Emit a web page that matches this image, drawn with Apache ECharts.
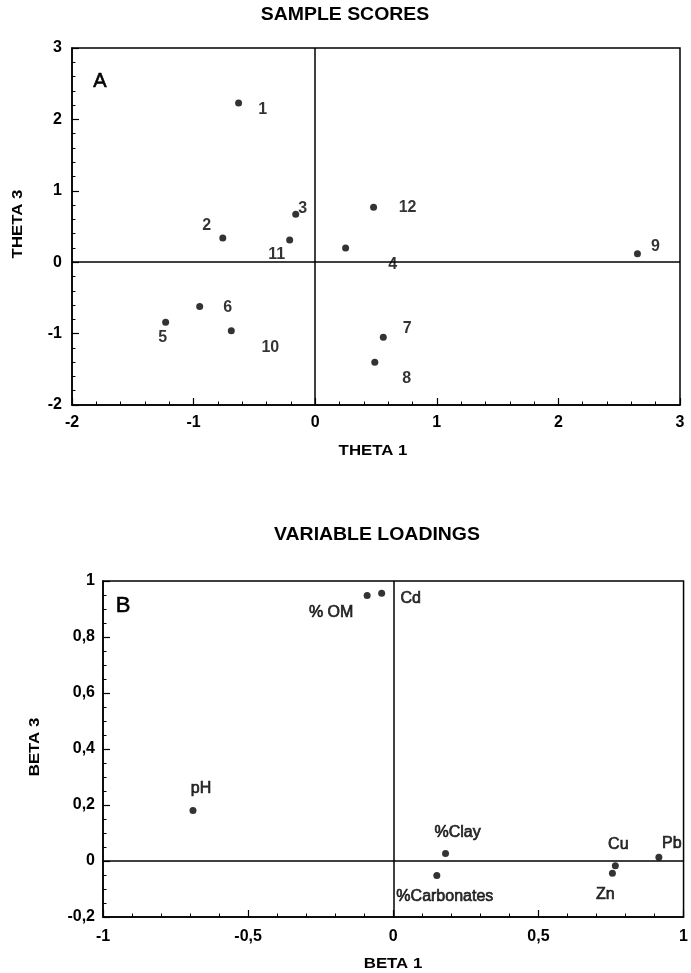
<!DOCTYPE html>
<html>
<head>
<meta charset="utf-8">
<script src="https://cdn.jsdelivr.net/npm/echarts@6/dist/echarts.min.js"></script>
<style>html,body{margin:0;padding:0;background:#fff}#c{width:691px;height:973px}</style>
</head>
<body>
<div id="c"></div>
<script>
// ---- Panel A: sample scores ----
var sampleIds = ['1','2','3','4','5','6','7','8','9','10','11','12'];
var theta1 = [-0.63, -0.76, -0.16, 0.25, -1.23, -0.95, 0.56, 0.49, 2.65, -0.69, -0.21, 0.48];
var theta3 = [2.23, 0.34, 0.67, 0.20, -0.84, -0.62, -1.05, -1.40, 0.12, -0.96, 0.31, 0.77];
// ---- Panel B: variable loadings ----
var variableNames = ['pH', '% OM', 'Cd', '%Clay', '%Carbonates', 'Cu', 'Zn', 'Pb'];
var beta1 = [-0.69, -0.09, -0.04, 0.18, 0.15, 0.765, 0.755, 0.915];
var beta3 = [0.18, 0.948, 0.956, 0.027, -0.052, -0.017, -0.044, 0.013];
// tick label values
var ticksA = [-2, -1, 0, 1, 2, 3];
var ticksBx = [-1, -0.5, 0, 0.5, 1];
var ticksBy = [-0.2, 0, 0.2, 0.4, 0.6, 0.8, 1];

// label placement (style only)
var labelOffsetsA = [[24,7],[-16,-12],[7,-6],[47,17],[-3,15],[28,1],[24,-9],[32,16],[18,-7],[39,17],[-13,15],[34,0]];
var labelOffsetsB = [[8,-22],[-36,17],[29,5],[12,-21],[8,21],[3,-21],[-7,21],[13,-14]];

var FONT = 'Liberation Sans, Arial, Helvetica, sans-serif';
function comma(v){ return String(v).replace('.', ','); }

var dataA = sampleIds.map(function(id, i){
  return { value: [theta1[i], theta3[i]], name: id,
    label: { offset: labelOffsetsA[i] } };
});
var dataB = variableNames.map(function(n, i){
  return { value: [beta1[i], beta3[i]], name: n,
    label: { offset: labelOffsetsB[i] } };
});

function axisCommon(extra){
  var base = {
    type: 'value',
    axisLine: { show: true, onZero: false, lineStyle: { color: '#000', width: 1.5 } },
    axisTick: { show: true, inside: true, length: 7, lineStyle: { color: '#000', width: 1.2 } },
    minorTick: { show: true, length: 3.5, lineStyle: { color: '#000', width: 1 } },
    splitLine: { show: false },
    axisLabel: { color: '#000', fontFamily: FONT, fontWeight: 'bold', fontSize: 16,
      showMinLabel: true, showMaxLabel: true }
  };
  for (var k in extra) {
    if (typeof extra[k] === 'object' && base[k] && !Array.isArray(extra[k])) {
      for (var j in extra[k]) base[k][j] = extra[k][j];
    } else base[k] = extra[k];
  }
  return base;
}

var zeroLines = {
  symbol: 'none', silent: true, animation: false,
  label: { show: false },
  lineStyle: { color: '#000', type: 'solid', width: 1.5 },
  data: [{ xAxis: 0 }, { yAxis: 0 }]
};

var option = {
  animation: false,
  backgroundColor: '#fff',
  grid: [
    { left: 72, top: 48, width: 608, height: 357, show: true, borderColor: '#000', borderWidth: 1.5, backgroundColor: 'transparent' },
    { left: 103, top: 581, width: 586, height: 336, show: true, borderColor: '#000', borderWidth: 1.5, backgroundColor: 'transparent' }
  ],
  xAxis: [
    axisCommon({ gridIndex: 0, min: ticksA[0], max: ticksA[ticksA.length-1], interval: 1,
      minorTick: { splitNumber: 5 }, axisLabel: { margin: 10 } }),
    axisCommon({ gridIndex: 1, min: ticksBx[0], max: ticksBx[ticksBx.length-1], interval: 0.5,
      minorTick: { splitNumber: 5 }, axisLabel: { margin: 12, formatter: comma } })
  ],
  yAxis: [
    axisCommon({ gridIndex: 0, min: ticksA[0], max: ticksA[ticksA.length-1], interval: 1,
      minorTick: { splitNumber: 5 }, axisLabel: { margin: 10 } }),
    axisCommon({ gridIndex: 1, min: ticksBy[0], max: ticksBy[ticksBy.length-1], interval: 0.2,
      minorTick: { splitNumber: 4 }, axisLabel: { margin: 8, formatter: comma } })
  ],
  series: [
    {
      type: 'scatter', xAxisIndex: 0, yAxisIndex: 0, symbol: 'circle', symbolSize: 7,
      itemStyle: { color: '#000' },
      label: { show: true, position: 'inside', formatter: '{b}', color: '#000',
        fontFamily: FONT, fontWeight: 'bold', fontSize: 16, align: 'center', verticalAlign: 'middle' },
      markLine: zeroLines,
      data: dataA
    },
    {
      type: 'scatter', xAxisIndex: 1, yAxisIndex: 1, symbol: 'circle', symbolSize: 7,
      itemStyle: { color: '#000' },
      label: { show: true, position: 'inside', formatter: '{b}', color: '#000',
        fontFamily: FONT, fontWeight: 'normal', fontSize: 16, align: 'center', verticalAlign: 'middle',
        textBorderColor: '#000', textBorderWidth: 0.7 },
      markLine: zeroLines,
      data: dataB
    }
  ],
  graphic: [
    { type: 'text', x: 345, y: 15, scaleX: 1.08,
      style: { text: 'SAMPLE SCORES', font: 'bold 18px ' + FONT, fill: '#000', align: 'center', verticalAlign: 'middle', textAlign: 'center', textVerticalAlign: 'middle' } },
    { type: 'text', x: 377, y: 535, scaleX: 1.08,
      style: { text: 'VARIABLE LOADINGS', font: 'bold 18px ' + FONT, fill: '#000', align: 'center', verticalAlign: 'middle', textAlign: 'center', textVerticalAlign: 'middle' } },
    { type: 'text', x: 373, y: 451, scaleX: 1.12,
      style: { text: 'THETA 1', font: 'bold 15px ' + FONT, fill: '#000', align: 'center', verticalAlign: 'middle', textAlign: 'center', textVerticalAlign: 'middle' } },
    { type: 'text', x: 393, y: 964, scaleX: 1.12,
      style: { text: 'BETA 1', font: 'bold 15px ' + FONT, fill: '#000', align: 'center', verticalAlign: 'middle', textAlign: 'center', textVerticalAlign: 'middle' } },
    { type: 'text', x: 18, y: 224, rotation: Math.PI / 2, scaleX: 1.12,
      style: { text: 'THETA 3', font: 'bold 15px ' + FONT, fill: '#000', align: 'center', verticalAlign: 'middle', textAlign: 'center', textVerticalAlign: 'middle' } },
    { type: 'text', x: 35, y: 747, rotation: Math.PI / 2, scaleX: 1.12,
      style: { text: 'BETA 3', font: 'bold 15px ' + FONT, fill: '#000', align: 'center', verticalAlign: 'middle', textAlign: 'center', textVerticalAlign: 'middle' } },
    { type: 'text', x: 100, y: 81,
      style: { text: 'A', font: '20px ' + FONT, fill: '#000', align: 'center', verticalAlign: 'middle', textAlign: 'center', textVerticalAlign: 'middle', stroke: '#000', lineWidth: 0.6 } },
    { type: 'text', x: 123, y: 606,
      style: { text: 'B', font: '22px ' + FONT, fill: '#000', align: 'center', verticalAlign: 'middle', textAlign: 'center', textVerticalAlign: 'middle', stroke: '#000', lineWidth: 0.6 } }
  ]
};

var chart = echarts.init(document.getElementById('c'), null, { renderer: 'canvas' });
chart.setOption(option);
</script>
</body>
</html>
